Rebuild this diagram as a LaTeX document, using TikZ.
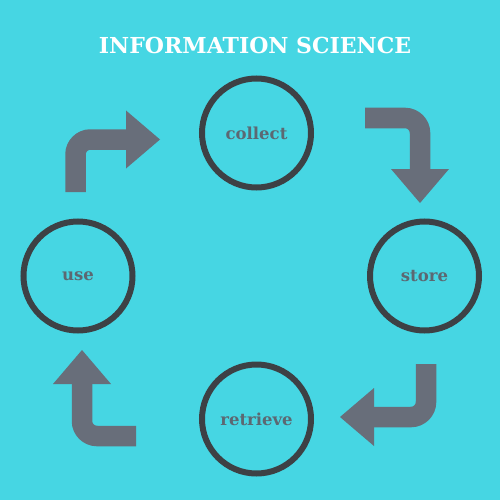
\documentclass[tikz,border=0pt]{standalone}
\usepackage{fontspec}
\setmainfont{DejaVu Serif}
\usetikzlibrary{arrows.meta}

\definecolor{bgcyan}{HTML}{46D6E3}
\definecolor{ringgray}{HTML}{3D4145}
\definecolor{bendgray}{HTML}{686E7A}
\definecolor{labelgray}{HTML}{5C6872}

\begin{document}
\begin{tikzpicture}[
  x=1pt, y=-1pt,
  stage/.style={circle, draw=ringgray, line width=6pt, minimum size=109pt, inner sep=0pt,
    text=labelgray, font=\fontsize{16.5}{20}\selectfont\bfseries},
  bendarrow/.style={draw=bendgray, line width=20.5pt, line cap=butt, rounded corners=15pt,
    -{Triangle[length=34pt, width=58pt, line width=0pt]}}
]

\fill[bgcyan] (0,0) rectangle (500,500);

\node[text=white, font=\fontsize{22}{26}\selectfont\bfseries] (title) at (255,45)
  {INFORMATION SCIENCE};

% The four stages of the cycle.
\node[stage] (collect)  at (256.5,133) {collect};
\node[stage] (store)    at (424.5,276) {store};
\node[stage] (retrieve) at (256.5,419) {retrieve};
\node[stage] (use)      at (78,276)    {use};

% Bent arrows between the stages.
\coordinate (useout)      at (75.5,192);
\coordinate (collectin)   at (160,139.5);
\coordinate (collectout)  at (365,118);
\coordinate (storein)     at (420,203);
\coordinate (storeout)    at (426,364);
\coordinate (retrievein)  at (340,417);
\coordinate (retrieveout) at (136,436);
\coordinate (usein)       at (82,350);

\draw[bendarrow] (useout) |- (collectin);
\draw[bendarrow] (collectout) -| (storein);
\draw[bendarrow] (storeout) |- (retrievein);
\draw[bendarrow] (retrieveout) -| (usein);

\end{tikzpicture}
\end{document}
